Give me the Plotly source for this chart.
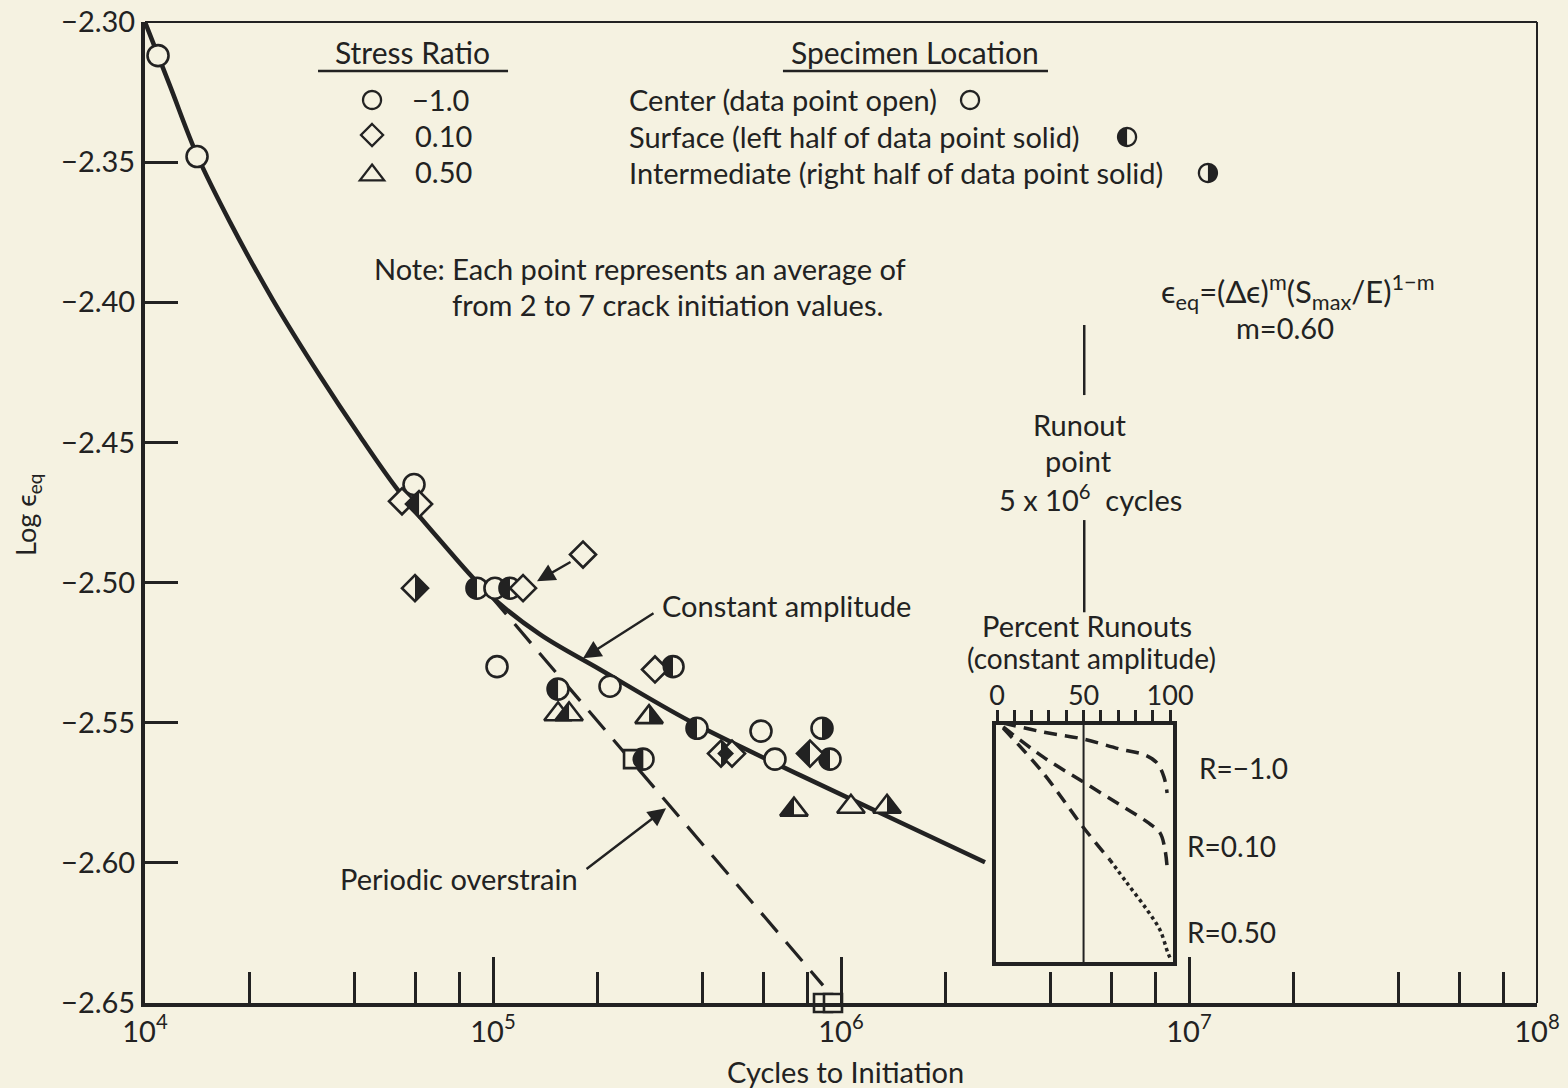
import numpy as np
import plotly.graph_objects as go

INK = "#222222"
PAPER = "#f5f2e1"
FONT = "Lato, DejaVu Sans, sans-serif"

# ---- constant amplitude fit curve (cycles, log strain) ----
curve_cycles = [10000, 11800, 14110, 17550, 23320, 31840, 41480, 53330, 70420,
                98040, 136500, 203000, 368300, 762500, 1477000, 2593000]
curve_log_eps = [-2.300, -2.3228, -2.3475, -2.3714, -2.3992, -2.4263, -2.4478,
                 -2.4670, -2.4849, -2.5045, -2.5185, -2.5310, -2.5495, -2.5687,
                 -2.5855, -2.5998]

# ---- periodic overstrain line ----
overstrain_cycles = [98040, 887800]
overstrain_log_eps = [-2.5045, -2.6437]

# ---- data points; location: C = center, S = surface, I = intermediate ----
circle_cycles = [10900, 14110, 59290, 89950, 101300, 111900, 102700, 153800,
                 216900, 329100, 269800, 385700, 589000, 646000, 881900, 929800]
circle_log_eps = [-2.312, -2.348, -2.465, -2.502, -2.502, -2.502, -2.530, -2.538,
                  -2.537, -2.530, -2.563, -2.552, -2.553, -2.563, -2.552, -2.563]
circle_location = ["C", "C", "C", "S", "C", "S", "C", "S",
                   "C", "S", "S", "S", "C", "C", "I", "S"]

diamond_cycles = [54760, 61300, 59690, 122000, 181400, 292100, 452000, 486200, 814500]
diamond_log_eps = [-2.471, -2.472, -2.502, -2.502, -2.490, -2.531, -2.561, -2.561, -2.561]
diamond_location = ["C", "S", "I", "C", "C", "C", "I", "C", "S"]

triangle_cycles = [153800, 165400, 280800, 732600, 1068000, 1356000]
triangle_log_eps = [-2.547, -2.547, -2.548, -2.581, -2.580, -2.580]
triangle_location = ["C", "S", "I", "S", "C", "I"]

square_cycles = [252600, 887800, 948400]
square_log_eps = [-2.563, -2.650, -2.650]

# ---- percent runouts inset (percent, log strain) ----
runout_m10_pct = [3.5, 26.6, 49.7, 71.1, 85.5, 92.5, 96.5, 98.3]
runout_m10_eps = [-2.5502, -2.5534, -2.5559, -2.5595, -2.5616, -2.5645, -2.5695, -2.5752]
runout_010_pct = [3.5, 26.6, 49.7, 71.1, 86.7, 94.2, 97.1, 98.3]
runout_010_eps = [-2.5516, -2.5623, -2.5712, -2.5794, -2.5855, -2.5894, -2.5955, -2.6016]
runout_050_pct = [3.5, 26.6, 49.7, 65.3]
runout_050_eps = [-2.5520, -2.5680, -2.5873, -2.5991]
runout_050_tail_pct = [65.3, 75.1, 86.7, 94.2, 98.8, 100.6]
runout_050_tail_eps = [-2.5991, -2.6073, -2.6169, -2.6241, -2.6323, -2.6348]

runout_cycles = 5e6

x_tick_vals = [1e4, 1e5, 1e6, 1e7, 1e8]
x_tick_text = ["10<sup>4</sup>", "10<sup>5</sup>", "10<sup>6</sup>", "10<sup>7</sup>", "10<sup>8</sup>"]
x_minor_vals = [m * 10 ** e for e in range(4, 8) for m in (2, 4, 6, 8)]
y_tick_vals = [-2.30, -2.35, -2.40, -2.45, -2.50, -2.55, -2.60, -2.65]
y_tick_text = ["\u2212%.2f" % abs(v) for v in y_tick_vals]
inset_tick_vals = list(range(0, 101, 10))
inset_tick_text = ["0", "", "", "", "", "50", "", "", "", "", "100"]

SIZES = {"circle": 21, "diamond": 20, "triangle-up": 24, "square": 18}
TXT = 29

fig = go.Figure()

# curves
fig.add_trace(go.Scatter(x=curve_cycles, y=curve_log_eps, mode="lines",
                         line=dict(color=INK, width=4.5, shape="spline", smoothing=1.0),
                         hoverinfo="skip"))
fig.add_trace(go.Scatter(x=overstrain_cycles, y=overstrain_log_eps, mode="lines",
                         line=dict(color=INK, width=3.2, dash="25px,13px"),
                         hoverinfo="skip"))

# open outlines of every point
for sym, xs, ys in [("circle", circle_cycles, circle_log_eps),
                    ("diamond", diamond_cycles, diamond_log_eps),
                    ("triangle-up", triangle_cycles, triangle_log_eps),
                    ("square", square_cycles, square_log_eps)]:
    fig.add_trace(go.Scatter(x=xs, y=ys, mode="markers", cliponaxis=False,
                             marker=dict(symbol=sym, size=SIZES[sym], color=PAPER,
                                         line=dict(color=INK, width=2.6)),
                             hoverinfo="skip"))


def marker_pts(kind, size, side=None):
    """Outline (side=None) or one half of a marker, pixel units with y up."""
    r = size / 2.0
    if kind == "circle":
        if side == "left":
            ang = np.linspace(np.pi / 2, 3 * np.pi / 2, 25)
        elif side == "right":
            ang = np.linspace(-np.pi / 2, np.pi / 2, 25)
        else:
            ang = np.linspace(0, 2 * np.pi, 49)[:-1]
        return [(r * np.cos(a), r * np.sin(a)) for a in ang]
    if kind == "diamond":
        d = 1.3 * r
        if side is None:
            return [(0, d), (d, 0), (0, -d), (-d, 0)]
        sx = -d if side == "left" else d
        return [(0, d), (sx, 0), (0, -d)]
    rt = r * 2 / np.sqrt(3)
    if side is None:
        return [(0, r), (rt, -r / 2), (-rt, -r / 2)]
    sx = -rt if side == "left" else rt
    return [(0, r), (sx, -r / 2), (0, -r / 2)]


def to_path(pts):
    return "M " + " L ".join("%.2f,%.2f" % p for p in pts) + " Z"


shapes = []
for kind, xs, ys, locs in [("circle", circle_cycles, circle_log_eps, circle_location),
                           ("diamond", diamond_cycles, diamond_log_eps, diamond_location),
                           ("triangle-up", triangle_cycles, triangle_log_eps, triangle_location)]:
    for cx, cy, loc in zip(xs, ys, locs):
        if loc == "C":
            continue
        side = "left" if loc == "S" else "right"
        shapes.append(dict(type="path", xref="x3", yref="y",
                           xsizemode="pixel", ysizemode="pixel",
                           xanchor=float(np.log10(cx)), yanchor=cy,
                           path=to_path(marker_pts(kind, SIZES[kind], side)),
                           fillcolor=INK, line=dict(width=0), layer="above"))


def key_symbol(kind, size, x, y, side=None):
    """Symbol used in the key, anchored in paper coordinates."""
    shapes.append(dict(type="path", xref="paper", yref="paper",
                       xsizemode="pixel", ysizemode="pixel", xanchor=x, yanchor=y,
                       path=to_path(marker_pts(kind, size)),
                       fillcolor="rgba(0,0,0,0)", line=dict(color=INK, width=2.3)))
    if side:
        shapes.append(dict(type="path", xref="paper", yref="paper",
                           xsizemode="pixel", ysizemode="pixel", xanchor=x, yanchor=y,
                           path=to_path(marker_pts(kind, size, side)),
                           fillcolor=INK, line=dict(width=0)))


key_symbol("circle", 18, 0.1631, 0.9205)
key_symbol("diamond", 17, 0.1631, 0.8848)
key_symbol("triangle", 21, 0.1631, 0.8440)
key_symbol("circle", 18, 0.5927, 0.9205)
key_symbol("circle", 18, 0.7055, 0.8828, side="left")
key_symbol("circle", 18, 0.7636, 0.8461, side="right")

# inset curves
inset_line = dict(color=INK, width=3.5, dash="13px,8px", shape="spline")
for xs, ys in [(runout_m10_pct, runout_m10_eps), (runout_010_pct, runout_010_eps),
               (runout_050_pct, runout_050_eps)]:
    fig.add_trace(go.Scatter(x=xs, y=ys, xaxis="x2", yaxis="y2", mode="lines",
                             line=inset_line, hoverinfo="skip"))
fig.add_trace(go.Scatter(x=runout_050_tail_pct, y=runout_050_tail_eps, xaxis="x2", yaxis="y2",
                         mode="lines", line=dict(color=INK, width=3.5, dash="dot",
                                                 shape="spline"), hoverinfo="skip"))

# runout marker line at 5x10^6 cycles
lr = float(np.log10(runout_cycles))
for y0, y1 in [(-2.4081, -2.4331), (-2.4777, -2.5106)]:
    shapes.append(dict(type="line", xref="x3", yref="y", x0=lr, x1=lr, y0=y0, y1=y1,
                       line=dict(color=INK, width=2.5)))
# 50 % line inside the inset
shapes.append(dict(type="line", xref="x2", yref="y2 domain", x0=50, x1=50, y0=0, y1=1,
                   line=dict(color=INK, width=2)))
# top and right frame
shapes.append(dict(type="line", xref="paper", yref="paper", x0=0, x1=1, y0=1, y1=1,
                   line=dict(color=INK, width=2)))
shapes.append(dict(type="line", xref="paper", yref="paper", x0=1, x1=1, y0=0, y1=1,
                   line=dict(color=INK, width=2)))
# heading underlines
shapes.append(dict(type="line", xref="paper", yref="paper", x0=0.1243, x1=0.2608,
                   y0=0.9501, y1=0.9501, line=dict(color=INK, width=2.5)))
shapes.append(dict(type="line", xref="paper", yref="paper", x0=0.4583, x1=0.6487,
                   y0=0.9501, y1=0.9501, line=dict(color=INK, width=2.5)))

ann = []


def label(text, x, y, size=TXT, xanchor="center", **kw):
    ann.append(dict(text=text, x=x, y=y, xref="paper", yref="paper", showarrow=False,
                    xanchor=xanchor, yanchor="middle",
                    font=dict(size=size, color=INK, family=FONT), **kw))


label("Stress Ratio", 0.1925, 0.9694, size=30)
label("Specimen Location", 0.5532, 0.9694, size=30)
label("\u22121.0", 0.1904, 0.9205, xanchor="left")
label("0.10", 0.1925, 0.8848, xanchor="left")
label("0.50", 0.1925, 0.8471, xanchor="left")
label("Center (data point open)", 0.3463, 0.9205, xanchor="left")
label("Surface (left half of data point solid)", 0.3463, 0.8828, xanchor="left")
label("Intermediate (right half of data point solid)", 0.3463, 0.8461, xanchor="left")
label("Note: Each point represents an average of", 0.3556, 0.7492, size=29)
label("from 2 to 7 crack initiation values.", 0.3757, 0.7125, size=29)
label("\u03f5<sub>eq</sub>=(\u0394\u03f5)<sup>m</sup>(S<sub>max</sub>/E)<sup>1\u2212m</sup>",
      0.8276, 0.7248, size=31)
label("m=0.60", 0.8190, 0.6881)
label("Runout", 0.6717, 0.5892)
label("point", 0.6703, 0.5535)
label("5 x 10<sup>6</sup>  cycles", 0.6789, 0.5148)
label("Constant amplitude", 0.3700, 0.4057, xanchor="left")
label("Periodic overstrain", 0.2256, 0.1274)
label("Percent Runouts", 0.6767, 0.3853)
label("(constant amplitude)", 0.6796, 0.3516, size=28)
label("R=\u22121.0", 0.7557, 0.2396, size=28, xanchor="left")
label("R=0.10", 0.7471, 0.1600, size=28, xanchor="left")
label("R=0.50", 0.7471, 0.0724, size=28, xanchor="left")
label("Log \u03f5<sub>eq</sub>", -0.0841, 0.4975, size=27, textangle=-90)
label("Cycles to Initiation", 0.5029, -0.0703)


def arrow(x_cycles, y, ax, ay):
    ann.append(dict(x=float(np.log10(x_cycles)), y=y, xref="x3", yref="y", text="",
                    showarrow=True, ax=ax, ay=ay, arrowhead=2, arrowsize=1.5,
                    arrowwidth=2.4, arrowcolor=INK))


arrow(133800, -2.4995, 35, -20)
arrow(181400, -2.5270, 72, -46)
arrow(314200, -2.5805, -81, 62)

fig.update_layout(
    width=1568, height=1088,
    margin=dict(l=145, r=31, t=22, b=85, autoexpand=False),
    paper_bgcolor=PAPER, plot_bgcolor=PAPER,
    showlegend=False,
    font=dict(family=FONT, color=INK, size=TXT),
    xaxis=dict(type="log", range=[4, 8], domain=[0, 1], anchor="y", automargin=False,
               tickvals=x_tick_vals, ticktext=x_tick_text,
               ticks="inside", ticklen=46, tickwidth=2.5, tickcolor=INK,
               showline=True, linewidth=3.5, linecolor=INK,
               showgrid=False, zeroline=False, tickfont=dict(size=TXT),
               minor=dict(tickvals=x_minor_vals, ticks="inside", ticklen=31,
                          tickwidth=2.5, tickcolor=INK, showgrid=False)),
    yaxis=dict(range=[-2.65, -2.30], domain=[0, 1], anchor="x", automargin=False,
               tickvals=y_tick_vals, ticktext=y_tick_text,
               ticks="inside", ticklen=33, tickwidth=2.5, tickcolor=INK,
               showline=True, linewidth=4, linecolor=INK,
               showgrid=False, zeroline=False, tickfont=dict(size=TXT)),
    xaxis3=dict(range=[4, 8], overlaying="x", visible=False, domain=[0, 1],
                automargin=False),
    xaxis2=dict(domain=[0.6114, 0.7385], anchor="y2", side="top", automargin=False,
                range=[-0.58, 101.7], showline=True, mirror=True, linewidth=3.5,
                linecolor=INK, ticks="outside", ticklen=11, tickwidth=2.5, tickcolor=INK,
                tickvals=inset_tick_vals, ticktext=inset_tick_text,
                ticklabelstandoff=-6,
                showgrid=False, zeroline=False, tickfont=dict(size=27)),
    yaxis2=dict(domain=[0.0418, 0.2834], anchor="x2", range=[-2.6355, -2.5509],
                automargin=False,
                showline=True, mirror=True, linewidth=3.5, linecolor=INK,
                ticks="", showticklabels=False, showgrid=False, zeroline=False),
    shapes=shapes,
    annotations=ann,
)

fig.write_html("out.html")
